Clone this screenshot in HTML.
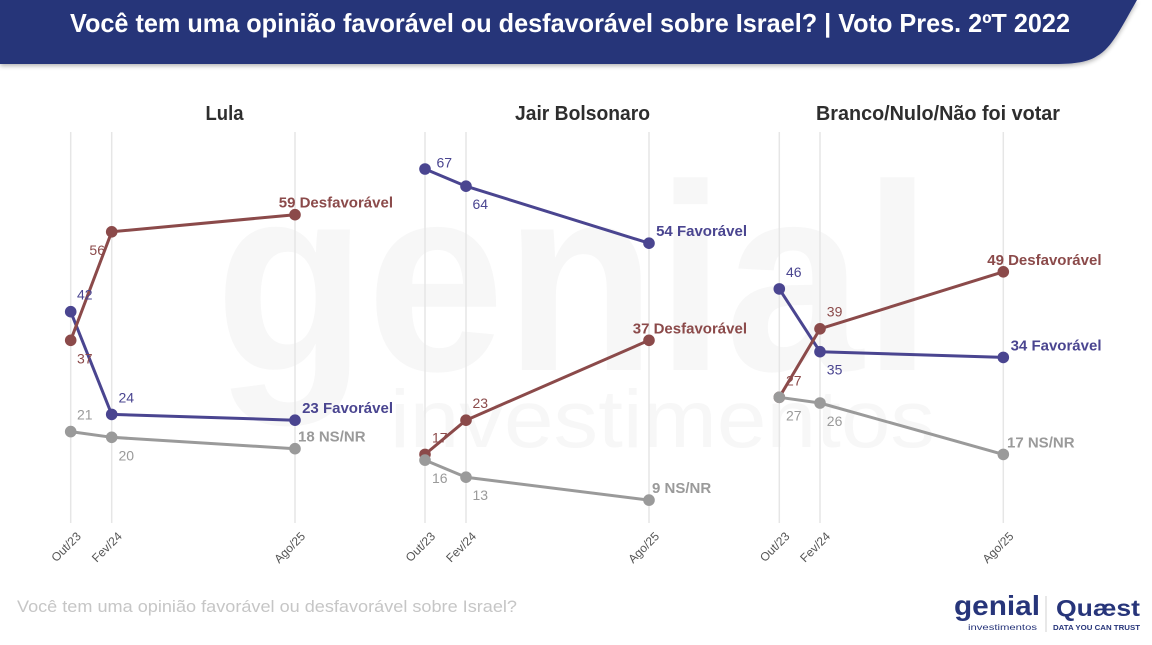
<!DOCTYPE html>
<html>
<head>
<meta charset="utf-8">
<style>
html,body{margin:0;padding:0;background:#fff;}
svg{display:block;}
text{font-family:"Liberation Sans",Arial,sans-serif;}
</style>
</head>
<body>
<svg width="1152" height="645" viewBox="0 0 1152 645" xmlns="http://www.w3.org/2000/svg">
<defs>
<filter id="sh" x="-5%" y="-20%" width="110%" height="160%">
<feGaussianBlur in="SourceAlpha" stdDeviation="2.5"/>
<feOffset dx="0" dy="2" result="b"/>
<feComponentTransfer><feFuncA type="linear" slope="0.3"/></feComponentTransfer>
<feMerge><feMergeNode/><feMergeNode in="SourceGraphic"/></feMerge>
</filter>
</defs>
<rect width="1152" height="645" fill="#fff"/>

<!-- watermark -->
<text x="215" y="370" font-size="266" font-weight="bold" fill="#f7f7f7" textLength="717" lengthAdjust="spacingAndGlyphs">genial</text>
<text x="390" y="447" font-size="82" fill="#f7f7f7" textLength="545" lengthAdjust="spacingAndGlyphs">investimentos</text>

<!-- header -->
<path d="M0,0 H1137 C1122,26 1112,48 1097,56 C1088,62 1075,64 1055,64 H0 Z" fill="#283479" filter="url(#sh)"/>
<text x="70" y="32" font-size="26" font-weight="bold" fill="#ffffff" textLength="1000" lengthAdjust="spacingAndGlyphs">Você tem uma opinião favorável ou desfavorável sobre Israel? | Voto Pres. 2ºT 2022</text>

<!-- panel titles -->
<g font-size="20" font-weight="bold" fill="#2e2e2e">
<text x="205.5" y="120" textLength="38" lengthAdjust="spacingAndGlyphs">Lula</text>
<text x="515" y="120" textLength="135" lengthAdjust="spacingAndGlyphs">Jair Bolsonaro</text>
<text x="816" y="120" textLength="244" lengthAdjust="spacingAndGlyphs">Branco/Nulo/Não foi votar</text>
</g>

<!-- gridlines -->
<g stroke="#e6e6e6" stroke-width="1.5">
<line x1="70.7" y1="132" x2="70.7" y2="523"/>
<line x1="111.7" y1="132" x2="111.7" y2="523"/>
<line x1="295" y1="132" x2="295" y2="523"/>
<line x1="425" y1="132" x2="425" y2="523"/>
<line x1="466" y1="132" x2="466" y2="523"/>
<line x1="649" y1="132" x2="649" y2="523"/>
<line x1="779.3" y1="132" x2="779.3" y2="523"/>
<line x1="820" y1="132" x2="820" y2="523"/>
<line x1="1003.3" y1="132" x2="1003.3" y2="523"/>
</g>

<!-- tick labels -->
<g font-size="12" fill="#555" text-anchor="end">
<text transform="translate(81.7,537) rotate(-45)">Out/23</text>
<text transform="translate(122.7,537) rotate(-45)">Fev/24</text>
<text transform="translate(306,537) rotate(-45)">Ago/25</text>
<text transform="translate(436,537) rotate(-45)">Out/23</text>
<text transform="translate(477,537) rotate(-45)">Fev/24</text>
<text transform="translate(660,537) rotate(-45)">Ago/25</text>
<text transform="translate(790.3,537) rotate(-45)">Out/23</text>
<text transform="translate(831,537) rotate(-45)">Fev/24</text>
<text transform="translate(1014.3,537) rotate(-45)">Ago/25</text>
</g>

<!-- Panel 1 -->
<g stroke-width="3" fill="none" stroke-linejoin="round">
<polyline points="70.7,311.7 111.7,414.4 295,420.2" stroke="#4a4590"/>
<polyline points="70.7,340.3 111.7,231.8 295,214.7" stroke="#8b4a4a"/>
<polyline points="70.7,431.6 111.7,437.3 295,448.7" stroke="#9a9a9a"/>
</g>
<g fill="#4a4590"><circle cx="70.7" cy="311.7" r="5.8"/><circle cx="111.7" cy="414.4" r="5.8"/><circle cx="295" cy="420.2" r="5.8"/></g>
<g fill="#8b4a4a"><circle cx="70.7" cy="340.3" r="5.8"/><circle cx="111.7" cy="231.8" r="5.8"/><circle cx="295" cy="214.7" r="5.8"/></g>
<g fill="#9a9a9a"><circle cx="70.7" cy="431.6" r="5.8"/><circle cx="111.7" cy="437.3" r="5.8"/><circle cx="295" cy="448.7" r="5.8"/></g>

<!-- Panel 2 -->
<g stroke-width="3" fill="none" stroke-linejoin="round">
<polyline points="425,169 466,186.2 649,243.2" stroke="#4a4590"/>
<polyline points="425,454.4 466,420.2 649,340.3" stroke="#8b4a4a"/>
<polyline points="425,460.1 466,477.2 649,500.1" stroke="#9a9a9a"/>
</g>
<g fill="#4a4590"><circle cx="425" cy="169" r="5.8"/><circle cx="466" cy="186.2" r="5.8"/><circle cx="649" cy="243.2" r="5.8"/></g>
<g fill="#8b4a4a"><circle cx="425" cy="454.4" r="5.8"/><circle cx="466" cy="420.2" r="5.8"/><circle cx="649" cy="340.3" r="5.8"/></g>
<g fill="#9a9a9a"><circle cx="425" cy="460.1" r="5.8"/><circle cx="466" cy="477.2" r="5.8"/><circle cx="649" cy="500.1" r="5.8"/></g>

<!-- Panel 3 -->
<g stroke-width="3" fill="none" stroke-linejoin="round">
<polyline points="779.3,288.9 820,351.7 1003.3,357.4" stroke="#4a4590"/>
<polyline points="779.3,397.3 820,328.8 1003.3,271.8" stroke="#8b4a4a"/>
<polyline points="779.3,397.3 820,403 1003.3,454.4" stroke="#9a9a9a"/>
</g>
<g fill="#4a4590"><circle cx="779.3" cy="288.9" r="5.8"/><circle cx="820" cy="351.7" r="5.8"/><circle cx="1003.3" cy="357.4" r="5.8"/></g>
<g fill="#8b4a4a"><circle cx="779.3" cy="397.3" r="5.8"/><circle cx="820" cy="328.8" r="5.8"/><circle cx="1003.3" cy="271.8" r="5.8"/></g>
<g fill="#9a9a9a"><circle cx="779.3" cy="397.3" r="5.8"/><circle cx="820" cy="403" r="5.8"/><circle cx="1003.3" cy="454.4" r="5.8"/></g>

<!-- small value labels -->
<g font-size="14">
<text x="77" y="299.7" fill="#4a4590">42</text>
<text x="77" y="363.3" fill="#8b4a4a">37</text>
<text x="105" y="254.8" fill="#8b4a4a" text-anchor="end">56</text>
<text x="118.5" y="402.4" fill="#4a4590">24</text>
<text x="77" y="419.6" fill="#9a9a9a">21</text>
<text x="118.5" y="460.3" fill="#9a9a9a">20</text>

<text x="436.5" y="167.3" fill="#4a4590">67</text>
<text x="472.5" y="209.2" fill="#4a4590">64</text>
<text x="472.5" y="408.2" fill="#8b4a4a">23</text>
<text x="432" y="442.4" fill="#8b4a4a">17</text>
<text x="432" y="483.1" fill="#9a9a9a">16</text>
<text x="472.5" y="500.2" fill="#9a9a9a">13</text>

<text x="786" y="276.9" fill="#4a4590">46</text>
<text x="826.8" y="316.3" fill="#8b4a4a">39</text>
<text x="826.8" y="374.7" fill="#4a4590">35</text>
<text x="786" y="385.3" fill="#8b4a4a">27</text>
<text x="786" y="420.3" fill="#9a9a9a">27</text>
<text x="826.8" y="426" fill="#9a9a9a">26</text>
</g>

<!-- end labels -->
<g font-size="15" font-weight="bold">
<text x="393" y="207.7" fill="#8b4a4a" text-anchor="end">59 Desfavorável</text>
<text x="393" y="413.2" fill="#4a4590" text-anchor="end">23 Favorável</text>
<text x="298" y="441.7" fill="#9a9a9a">18 NS/NR</text>

<text x="747" y="236.2" fill="#4a4590" text-anchor="end">54 Favorável</text>
<text x="747" y="333.3" fill="#8b4a4a" text-anchor="end">37 Desfavorável</text>
<text x="652" y="493.1" fill="#9a9a9a">9 NS/NR</text>

<text x="1101.5" y="264.8" fill="#8b4a4a" text-anchor="end">49 Desfavorável</text>
<text x="1101.5" y="350.4" fill="#4a4590" text-anchor="end">34 Favorável</text>
<text x="1007" y="447.4" fill="#9a9a9a">17 NS/NR</text>
</g>

<!-- footer -->
<text x="17" y="612" font-size="17" fill="#c6c6c6" textLength="500" lengthAdjust="spacingAndGlyphs">Você tem uma opinião favorável ou desfavorável sobre Israel?</text>

<!-- logos -->
<text x="954" y="615" font-size="28" font-weight="bold" fill="#27357a" textLength="86" lengthAdjust="spacingAndGlyphs">genial</text>
<text x="968" y="630" font-size="8" fill="#27357a" textLength="69" lengthAdjust="spacingAndGlyphs">investimentos</text>
<line x1="1046" y1="596" x2="1046" y2="632" stroke="#d0d0d0" stroke-width="1"/>
<text x="1056" y="616" font-size="23" font-weight="bold" fill="#27357a" textLength="84" lengthAdjust="spacingAndGlyphs">Quæst</text>
<text x="1053" y="630" font-size="7.5" font-weight="bold" fill="#27357a" textLength="87" lengthAdjust="spacingAndGlyphs">DATA YOU CAN TRUST</text>
</svg>
</body>
</html>
